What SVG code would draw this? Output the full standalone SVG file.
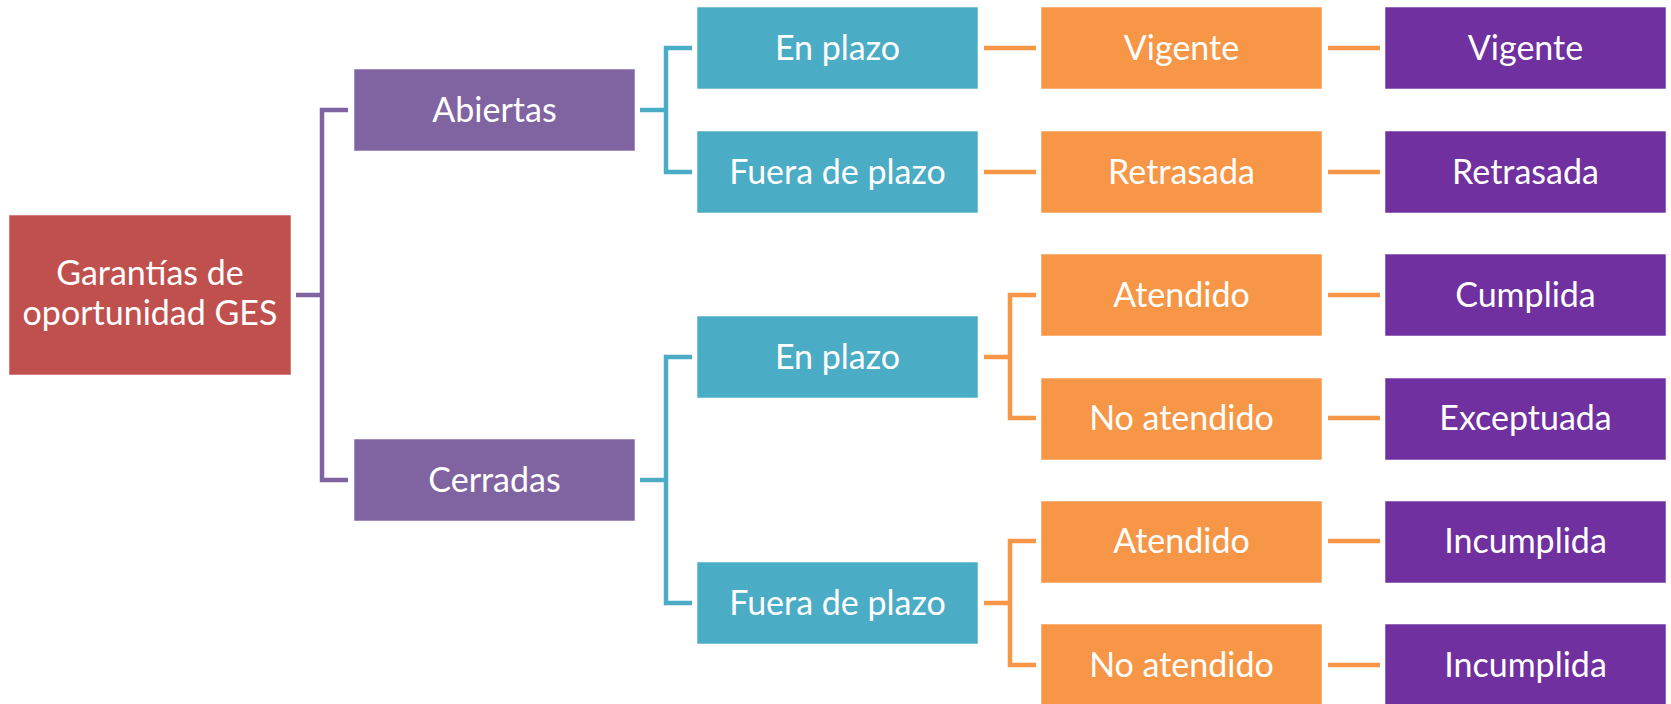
<svg xmlns="http://www.w3.org/2000/svg" width="1671" height="704" viewBox="0 0 1671 704">
<style>
.box{stroke:#ffffff;stroke-opacity:0.55;stroke-width:1}
.root{fill:#C0504D}.l1{fill:#8064A2}.cy{fill:#4BACC6}.or{fill:#F79646}.pu{fill:#7030A0}
text{font-family:Lato,"Open Sans","Liberation Sans",sans-serif;font-size:34px;fill:#ffffff;text-anchor:middle}
.c{fill:none;stroke-width:4.5;stroke-linejoin:miter;stroke-linecap:butt}
.cp{stroke:#8064A2}.cc{stroke:#4BACC6}.co{stroke:#F79646}
</style>
<rect width="1671" height="704" fill="#ffffff"/>
<g id="connectors">
<path class="c cp" d="M296 295H322M348 110H322V480H348"/>
<path class="c cc" d="M640 110H666M692 48H666V172H692"/>
<path class="c cc" d="M640 480H666M692 357H666V603H692"/>
<path class="c co" d="M984 48H1036M984 172H1036"/>
<path class="c co" d="M984 357H1010M1036 295H1010V418H1036"/>
<path class="c co" d="M984 603H1010M1036 541H1010V665H1036"/>
<path class="c co" d="M1328 48H1380M1328 172H1380M1328 295H1380M1328 418H1380M1328 541H1380M1328 665H1380"/>
</g>
<g id="root"><rect class="box root" x="9" y="215" width="282" height="160"/><text x="150" y="285">Garantías de</text><text x="150" y="325">oportunidad GES</text></g>
<g id="abiertas"><rect class="box l1" x="354" y="69" width="281" height="82"/><text x="494.5" y="122">Abiertas</text></g>
<g id="cerradas"><rect class="box l1" x="354" y="439" width="281" height="82"/><text x="494.5" y="492">Cerradas</text></g>
<g id="a-enplazo"><rect class="box cy" x="697" y="7" width="281" height="82"/><text x="837.5" y="60">En plazo</text></g>
<g id="a-fuera"><rect class="box cy" x="697" y="131" width="281" height="82"/><text x="837.5" y="184">Fuera de plazo</text></g>
<g id="c-enplazo"><rect class="box cy" x="697" y="316" width="281" height="82"/><text x="837.5" y="369">En plazo</text></g>
<g id="c-fuera"><rect class="box cy" x="697" y="562" width="281" height="82"/><text x="837.5" y="615">Fuera de plazo</text></g>
<g id="o1"><rect class="box or" x="1041" y="7" width="281" height="82"/><text x="1181.5" y="60">Vigente</text></g>
<g id="o2"><rect class="box or" x="1041" y="131" width="281" height="82"/><text x="1181.5" y="184">Retrasada</text></g>
<g id="o3"><rect class="box or" x="1041" y="254" width="281" height="82"/><text x="1181.5" y="307">Atendido</text></g>
<g id="o4"><rect class="box or" x="1041" y="378" width="281" height="82"/><text x="1181.5" y="430">No atendido</text></g>
<g id="o5"><rect class="box or" x="1041" y="501" width="281" height="82"/><text x="1181.5" y="553">Atendido</text></g>
<g id="o6"><rect class="box or" x="1041" y="624" width="281" height="82"/><text x="1181.5" y="677">No atendido</text></g>
<g id="p1"><rect class="box pu" x="1385" y="7" width="281" height="82"/><text x="1525.5" y="60">Vigente</text></g>
<g id="p2"><rect class="box pu" x="1385" y="131" width="281" height="82"/><text x="1525.5" y="184">Retrasada</text></g>
<g id="p3"><rect class="box pu" x="1385" y="254" width="281" height="82"/><text x="1525.5" y="307">Cumplida</text></g>
<g id="p4"><rect class="box pu" x="1385" y="378" width="281" height="82"/><text x="1525.5" y="430">Exceptuada</text></g>
<g id="p5"><rect class="box pu" x="1385" y="501" width="281" height="82"/><text x="1525.5" y="553">Incumplida</text></g>
<g id="p6"><rect class="box pu" x="1385" y="624" width="281" height="82"/><text x="1525.5" y="677">Incumplida</text></g>
</svg>
